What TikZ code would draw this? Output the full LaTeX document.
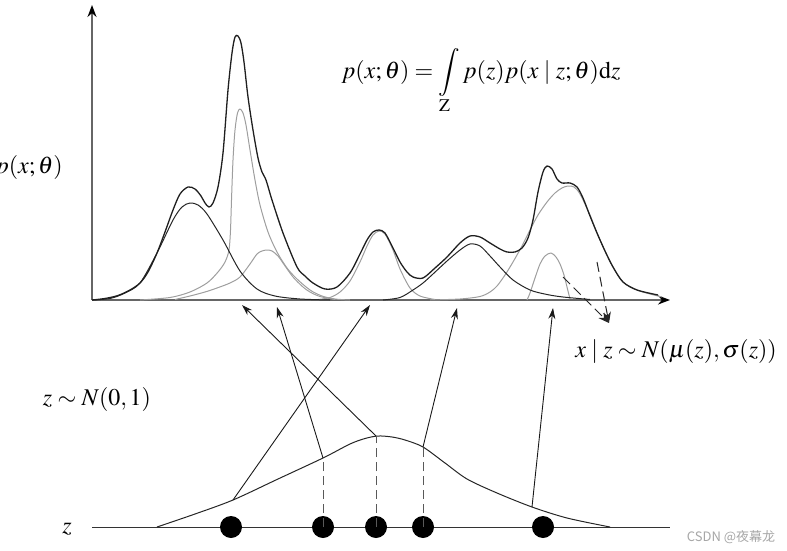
\documentclass[tikz,border=0pt]{standalone}
\usepackage{mathptmx}
\usepackage[no-math]{fontspec}
\setmainfont{Liberation Serif}
\newfontfamily\cjkfont{Noto Sans CJK SC}
\usetikzlibrary{arrows.meta}
\tikzset{
  tot/.style={line width=1.3pt, draw=black!88, line join=round},
  comp/.style={line width=1pt, draw=black!85, line join=round},
  gcomp/.style={line width=1pt, draw=black!38, line join=round},
  axis/.style={line width=1.6pt, draw=black!60, -{Stealth[length=12pt,width=9pt,color=black]}},
  maparrow/.style={line width=0.9pt, draw=black!90, -{Stealth[length=11pt,width=7pt]}},
  guide/.style={line width=1pt, draw=black!65, dash pattern=on 9pt off 5pt},
  dasharrow/.style={line width=1pt, draw=black!85, dash pattern=on 10pt off 5pt, -{Stealth[length=11pt,width=8pt]}},
  dot/.style={circle, fill=black, minimum size=22pt, inner sep=0pt},
  lbl/.style={font=\fontsize{24}{28}\selectfont, inner sep=0pt}
}
\begin{document}
\begin{tikzpicture}[x=1pt,y=-1pt]
\useasboundingbox (0,0) rectangle (787,551);
% axes
\coordinate (O) at (92,300);
\coordinate (ytip) at (92,5);
\coordinate (xtip) at (670,300);
\draw[axis] (O) -- (ytip);
\draw[axis] (O) -- (xtip);
% gray components
\draw[gcomp] plot[smooth] coordinates {(140,300) (170,297.5) (190,292) (207,283) (218,272) (225,262) (229,250) (230.5,230) (231.5,200) (233,160) (235,130) (237.5,113) (240,109) (243,113) (246,125) (250,150) (255,180) (260,205) (268,232) (277,252) (287,268) (297,279) (310,290) (322,296) (335,299) (350,300)};
\draw[gcomp] plot[smooth] coordinates {(175,299.5) (190,296) (205,292) (217,288) (230,283) (240,277) (250,264) (257,254) (262,251) (267,250) (272,251) (278,256) (283,263) (293,277) (303,287) (310,292) (320,296.5) (335,299.5)};
\draw[gcomp] plot[smooth] coordinates {(318,299.5) (330,297.5) (340,292) (350,281) (360,262) (367,246) (373,235) (379,231) (385,234) (393,250) (400,269) (410,288) (420,296) (435,299.5)};
\draw[gcomp] plot[smooth] coordinates {(430,300) (460,299) (480,296.5) (490,292) (497,286) (505,275) (513,262) (522,246) (530,230) (538,215) (547,202) (555,193) (562,188) (568,186) (574,187) (580,194) (590,215) (597,233) (605,251) (613,267) (623,282) (637,290) (650,294) (662,297)};
\draw[gcomp] plot[smooth] coordinates {(527,300) (530,293) (535,278) (540,264) (545,256) (551,253) (556,257) (560,264) (564,275) (567,287) (570,299)};
% black components
\draw[comp] plot[smooth] coordinates {(92,300) (110,298.5) (125,293) (140,283) (157,253) (173,220) (182,207) (190,203) (198,205) (207,214) (223,240) (240,271) (257,289) (275,296) (300,299) (330,300)};
\draw[comp] plot[smooth] coordinates {(383,300) (400,297.5) (413,290) (423,283) (433,274) (447,261) (460,250) (470,244) (480,246) (490,256) (500,267) (513,280) (530,290) (547,294.5) (563,297) (590,299.5)};
% total density
\draw[tot] plot[smooth] coordinates {(92,300) (105,298.5) (118,295.5) (130,290) (140,283) (148,272) (157,253) (165,232) (173,210) (180,194) (188,187) (195,189) (201,196) (205,203) (209,207) (213,203) (218,187) (223,153) (228,90) (232,53) (235,37) (238,36) (241,43) (244,62) (248,97) (253,130) (258,158) (262,172) (266,180) (272,200) (283,233) (297,267) (305,276) (313,283) (325,289) (337,287) (350,273) (360,254) (367,240) (373,232) (379,230) (385,233) (393,248) (400,262) (407,272) (413,277) (423,278) (435,268) (447,257) (460,243) (470,236) (480,237) (490,243) (500,249) (507,252) (515,252) (522,248) (528,238) (533,220) (538,192) (543,172) (547,166) (552,169) (557,179) (562,183) (570,183) (577,187) (583,198) (590,216) (597,233) (605,251) (613,267) (623,282) (637,290) (658,295)};
% dashed arrows on the right
\coordinate (s1) at (563,277);
\coordinate (s2) at (597,262);
\coordinate (dtip) at (609,323);
\draw[dasharrow] (s1) -- (dtip);
\draw[dasharrow] (s2) -- (dtip);
% z line and prior
\coordinate (zl) at (92,527);
\coordinate (zr) at (670,527);
\draw[line width=1pt, draw=black!80] (zl) -- (zr);
\draw[comp] plot[smooth] coordinates {(157,527) (195,514) (233,500) (278,479) (323,458) (350,444) (365,438.5) (378,436) (392,437) (405,440) (423,447) (445,463) (467,479) (497,493) (532,507) (567,518) (610,527)};
\coordinate (b1) at (233,500);
\coordinate (b2) at (323,458);
\coordinate (b3) at (376,436);
\coordinate (b4) at (423,447);
\coordinate (b5) at (532,507);
\node[dot] (d1) at (231,527) {};
\node[dot] (d2) at (323,527) {};
\node[dot] (d3) at (376,527) {};
\node[dot] (d4) at (423,527) {};
\node[dot] (d5) at (543,527) {};
\draw[guide] (d2.center) -- (b2);
\draw[guide] (d3.center) -- (b3);
\draw[guide] (d4.center) -- (b4);
% mapping arrows
\coordinate (t1) at (370,305);
\coordinate (t2) at (277,307);
\coordinate (t3) at (242,305);
\coordinate (t4) at (457,308);
\coordinate (t5) at (553,308);
\draw[maparrow] (b1) -- (t1);
\draw[maparrow] (b2) -- (t2);
\draw[maparrow] (b3) -- (t3);
\draw[maparrow] (b4) -- (t4);
\draw[maparrow] (b5) -- (t5);
% labels
\node[lbl, anchor=base] (formula) at (481,78) {$\displaystyle p(x;\theta)=\int\limits_{\mathrm{Z}} p(z)p(x\mid z;\theta)\mathrm{d}z$};
\node[lbl, anchor=base east] (ylab) at (63,173) {$p(x;\theta)$};
\node[lbl, anchor=base] (prior) at (97,405) {$z\sim N(0,1)$};
\node[lbl, anchor=base] (zlab) at (67,533) {$z$};
\node[lbl, anchor=base] (cond) at (676,357) {$x\mid z\sim N(\mu(z),\sigma(z))$};
\node[inner sep=0pt, text=black!35, font=\cjkfont\fontsize{13}{15}\selectfont] (wm) at (731,537) {CSDN @夜幕龙};
\end{tikzpicture}
\end{document}
